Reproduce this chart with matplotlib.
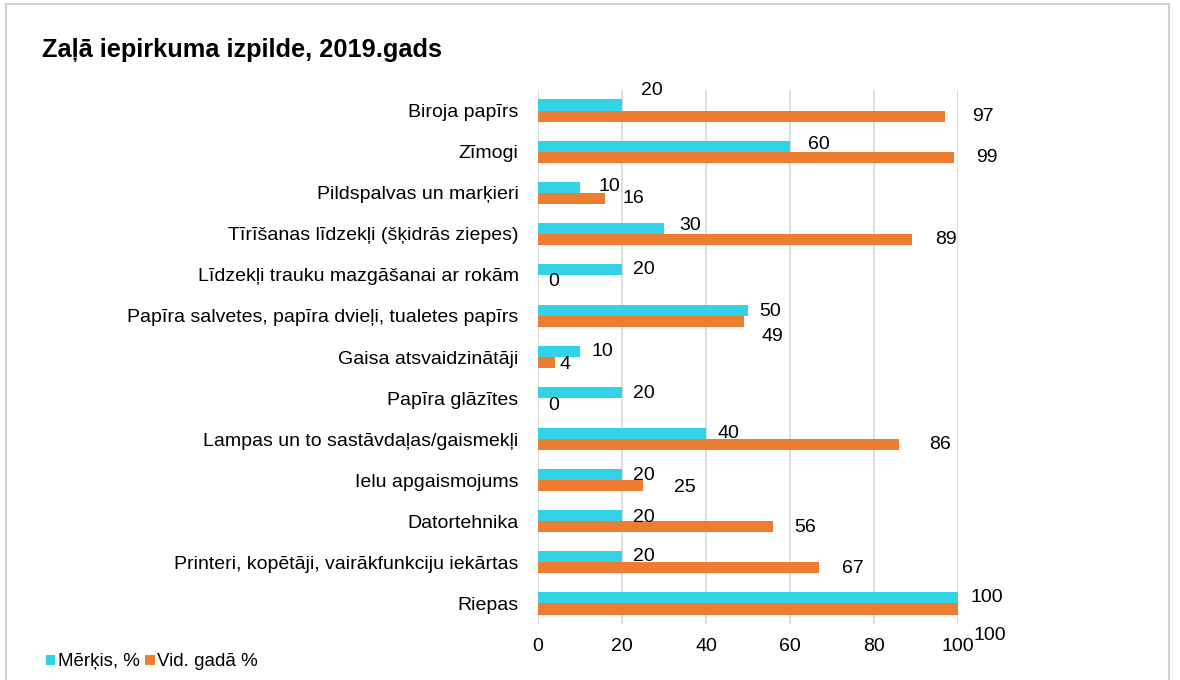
import numpy as np
import matplotlib.pyplot as plt
from matplotlib.patches import Rectangle

plt.rcParams['font.family'] = ['Liberation Sans', 'DejaVu Sans']

# Data
categories = [
    "Biroja papīrs",
    "Zīmogi",
    "Pildspalvas un marķieri",
    "Tīrīšanas līdzekļi (šķidrās ziepes)",
    "Līdzekļi trauku mazgāšanai ar rokām",
    "Papīra salvetes, papīra dvieļi, tualetes papīrs",
    "Gaisa atsvaidzinātāji",
    "Papīra glāzītes",
    "Lampas un to sastāvdaļas/gaismekļi",
    "Ielu apgaismojums",
    "Datortehnika",
    "Printeri, kopētāji, vairākfunkciju iekārtas",
    "Riepas",
]
target = [20, 60, 10, 30, 20, 50, 10, 20, 40, 20, 20, 20, 100]
actual = [97, 99, 16, 89, 0, 49, 4, 0, 86, 25, 56, 67, 100]
series_names = ["Mērķis, %", "Vid. gadā %"]

# label offsets (pixels) as placed in the original chart
target_dx = [30, 29, 29, 26, 22, 22, 22, 22, 22, 22, 22, 22, 29]
target_dy = [14, 2, 1, 3, 0, -1, 0, -1, 0, -1, -2, 0, 0]
actual_dx = [38, 33, 28, 34, 16, 29, 10, 16, 41, 42, 32, 33, 32]
actual_dy = [0, 0, 0, 0, -1, -15, -2, -2, 0, -2, -1, -1, -26]

cyan = "#32D3E7"
orange = "#ED7D31"
fs = 14

fig = plt.figure(figsize=(11.8, 6.8), dpi=100)
ax = fig.add_axes([538 / 1180, 1 - 624 / 680, 420 / 1180, 534 / 680])

y = np.arange(len(categories))
h = 0.27
ax.barh(y - h / 2, target, height=h, color=cyan, label=series_names[0], zorder=3)
ax.barh(y + h / 2, actual, height=h, color=orange, label=series_names[1], zorder=3)

for i in range(len(categories)):
    ax.annotate(str(target[i]), (target[i], y[i] - h / 2),
                xytext=(target_dx[i], target_dy[i]), textcoords="offset pixels",
                ha="center", va="center", fontsize=fs)
    ax.annotate(str(actual[i]), (actual[i], y[i] + h / 2),
                xytext=(actual_dx[i], actual_dy[i]), textcoords="offset pixels",
                ha="center", va="center", fontsize=fs, annotation_clip=False)

ax.set_ylim(len(categories) - 0.5, -0.5)
ax.set_xlim(0, 100)
ax.set_xticks(np.arange(0, 101, 20))
ax.set_yticks(y)
ax.set_yticklabels(categories)
ax.tick_params(axis="y", length=0, pad=14, labelsize=fs)
ax.tick_params(axis="x", length=0, pad=10, labelsize=fs)
ax.xaxis.grid(True, color="#D9D9D9", linewidth=1.2, zorder=0)
for s in ax.spines.values():
    s.set_visible(False)

fig.text(42 / 1180, 1 - 50 / 680, "Zaļā iepirkuma izpilde, 2019.gads",
         fontsize=18.3, fontweight="bold", va="center", ha="left")

fig.legend(loc="center left", bbox_to_anchor=(38 / 1180, 1 - 662 / 680), ncol=2,
           frameon=False, fontsize=13.5, handlelength=0.5, handleheight=0.5,
           handletextpad=0.15, columnspacing=0.3, borderaxespad=0)

fig.patches.append(Rectangle((6 / 1180, -0.01), 1163 / 1180, 1 - 4 / 680 + 0.01,
                             transform=fig.transFigure, fill=False,
                             edgecolor="#D0D0D0", linewidth=1.5))

fig.savefig("out.png", dpi=100)
